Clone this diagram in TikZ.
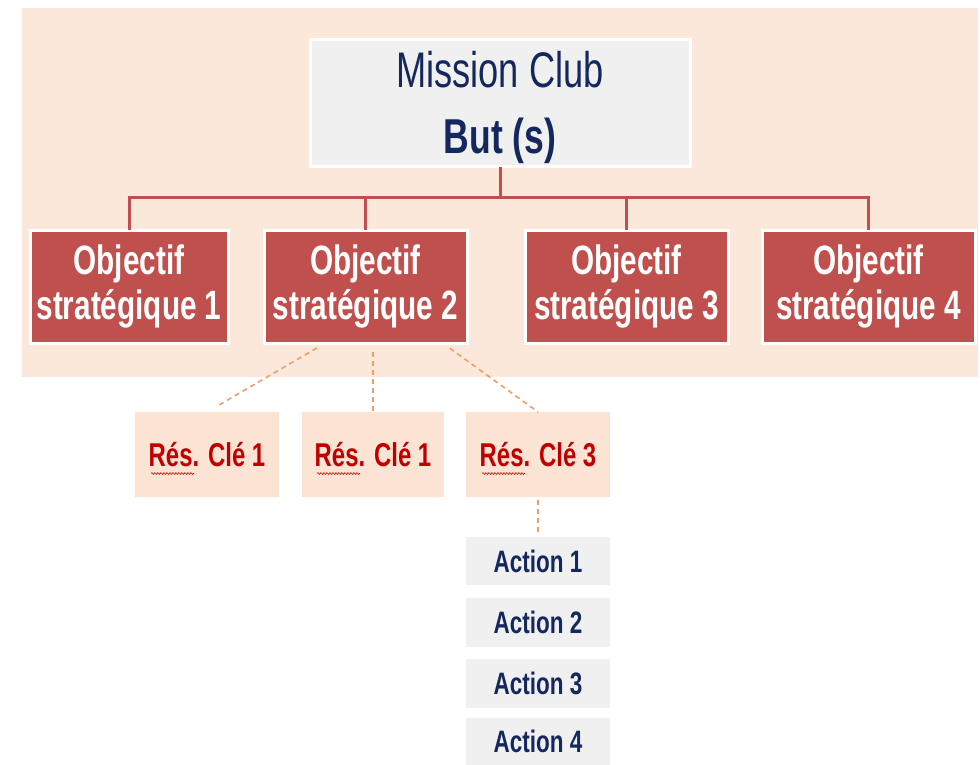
\documentclass[tikz,border=0pt]{standalone}
\usepackage{fontspec}
\setmainfont[FakeStretch=0.725]{Liberation Sans}
\usetikzlibrary{decorations.pathmorphing}

\definecolor{peach}{HTML}{FCE8DB}
\definecolor{respeach}{HTML}{FCE4D4}
\definecolor{lightgrey}{HTML}{F0F0F0}
\definecolor{brick}{HTML}{C0504D}
\definecolor{navy}{HTML}{14285E}
\definecolor{darkred}{HTML}{C00000}
\definecolor{dashorange}{HTML}{EBA06B}

\tikzset{
  box/.style={anchor=north west, inner sep=0pt, outer sep=0pt, align=center},
  missionbox/.style={box, fill=lightgrey, draw=white, line width=3pt},
  missiontxt/.style={inner sep=0pt, align=center, text=navy,
    font=\fontsize{50}{66}\selectfont},
  objbox/.style={box, fill=brick, draw=white, line width=3pt,
    text=white, font=\bfseries\fontsize{41}{45}\selectfont},
  resbox/.style={box, fill=respeach, text=darkred,
    font=\bfseries\fontsize{33}{38}\selectfont},
  actbox/.style={box, fill=lightgrey, text=navy,
    font=\bfseries\fontsize{31}{36}\selectfont, minimum width=144pt},
  treeline/.style={draw=brick, line width=3pt},
  dashline/.style={draw=dashorange, line width=1.6pt, dash pattern=on 5pt off 4pt},
  spellmark/.style={draw=red!85!black, line width=0.6pt,
    decorate, decoration={snake, amplitude=0.9pt, segment length=3pt}}
}

\begin{document}
\begin{tikzpicture}[x=1pt, y=-1pt]
  \useasboundingbox (0,0) rectangle (980,765);
  \fill[white] (0,0) rectangle (980,765);
  % upper band
  \fill[peach] (22,8) rectangle (978,377);

  % mission
  \node[missionbox, minimum width=380pt, minimum height=127pt] (mission) at (310,40) {};
  \node[missiontxt, yshift=-4pt] (missiontext) at (mission.center)
    {Mission Club\\\textbf{\fontsize{49}{66}\selectfont But (s)}};

  % strategic objectives
  \node[objbox, minimum width=198pt, minimum height=113pt] (o1) at (30,230)
    {Objectif\\stratégique 1};
  \node[objbox, minimum width=203pt, minimum height=113pt] (o2) at (264,230)
    {Objectif\\stratégique 2};
  \node[objbox, minimum width=203pt, minimum height=113pt] (o3) at (525,230)
    {Objectif\\stratégique 3};
  \node[objbox, minimum width=213pt, minimum height=113pt] (o4) at (762,230)
    {Objectif\\stratégique 4};

  % tree connectors
  \coordinate (hub) at (500,197);
  \draw[treeline] (mission.south) -- (hub);
  \draw[treeline] (hub) -| (o1.north);
  \draw[treeline] (hub) -| (o2.north);
  \draw[treeline] (hub) -| (o3.north);
  \draw[treeline] (hub) -| (o4.north);

  % key results
  \node[resbox, minimum width=144pt, minimum height=85pt] (r1) at (135,412) {Rés. Clé 1};
  \node[resbox, minimum width=142pt, minimum height=85pt] (r2) at (302,412) {Rés. Clé 1};
  \node[resbox, minimum width=144pt, minimum height=85pt] (r3) at (466,412) {Rés. Clé 3};

  \foreach \r in {r1,r2,r3}
    \draw[spellmark] ([xshift=-56pt,yshift=-19pt]\r.center) -- ++(43,0);

  % dashed links to the key results
  \draw[dashline, shorten <=10pt, shorten >=11pt] ([xshift=-40pt]o2.south) -- (r1.north);
  \draw[dashline, shorten <=9pt] (r2.north |- o2.south) -- (r2.north);
  \draw[dashline, shorten <=9pt] ([xshift=77pt]o2.south) -- (r3.north);

  % actions
  \node[actbox, minimum height=48pt] (a1) at (466,537) {Action 1};
  \node[actbox, minimum height=49pt] (a2) at (466,598) {Action 2};
  \node[actbox, minimum height=49pt] (a3) at (466,659) {Action 3};
  \node[actbox, minimum height=47pt] (a4) at (466,718) {Action 4};

  \draw[dashline, shorten <=3pt, shorten >=5pt] (r3.south) -- (a1.north);
\end{tikzpicture}
\end{document}
